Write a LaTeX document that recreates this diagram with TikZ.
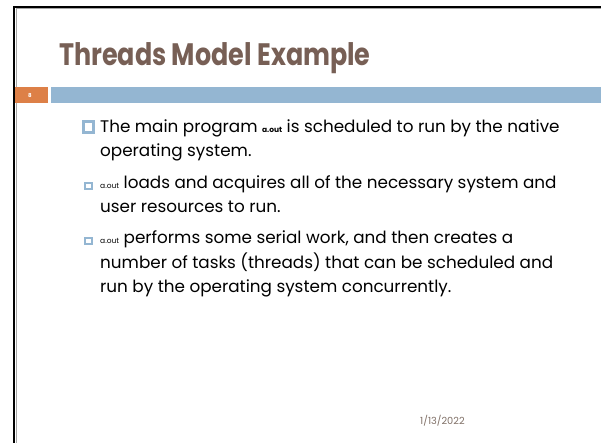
\documentclass[tikz,border=0pt]{standalone}
\usepackage{fontspec}
\setmainfont{Poppins}
\newfontfamily\titlefont[FakeStretch=0.82]{Poppins}
\definecolor{titlebrown}{HTML}{775F55}
\definecolor{barorange}{HTML}{DD8047}
\definecolor{barblue}{HTML}{94B6D2}
\definecolor{datebrown}{HTML}{7F6F66}

\begin{document}
\begin{tikzpicture}[x=1pt,y=-1pt,
	line/.style={anchor=base west,inner sep=0pt,font=\fontsize{16.8}{20}\selectfont},
	bigbullet/.style={draw=barblue,line width=2.8pt,fill=white,minimum size=10.5pt,inner sep=0pt},
	smallbullet/.style={draw=barblue,line width=2pt,fill=white,minimum size=6.5pt,inner sep=0pt}]
	\useasboundingbox (0,0) rectangle (601,442);
	% frame of the slide
	\draw [black!35,line width=1pt] (16,443) -- (16,8.5) -- (602,8.5);
	\draw [line width=2pt] (14,443) -- (14,7) -- (602,7);
	\fill [barorange] (15,87) rectangle (48,103);
	\fill [barblue] (51,87) rectangle (601,103);
	\node (num) [text=white,font=\fontsize{5.5}{6}\selectfont\bfseries] at (30,95) {8};

	\draw (59,65) node (title) [anchor=base west,inner sep=0pt,text=titlebrown,font=\titlefont\fontsize{31}{34}\selectfont\bfseries] {Threads Model Example};

	\node (b1) [bigbullet] at (88.5,127) {};
	\draw (100,132) node (l1) [line] {The main program {\fontsize{7.5}{8}\selectfont\bfseries a.out} is scheduled to run by the native};
	\draw (100,156) node (l2) [line] {operating system.};
	\node (b2) [smallbullet] at (88.5,186) {};
	\draw (100,188.5) node (l3) [line] {{\fontsize{7.5}{8}\selectfont a.out} loads and acquires all of the necessary system and};
	\draw (100,212) node (l4) [line] {user resources to run.};
	\node (b3) [smallbullet] at (88.5,241) {};
	\draw (100,243.5) node (l5) [line] {{\fontsize{7.5}{8}\selectfont a.out} performs some serial work, and then creates a};
	\draw (100,268) node (l6) [line] {number of tasks (threads) that can be scheduled and};
	\draw (100,292) node (l7) [line] {run by the operating system concurrently.};

	\draw (420,424) node (date) [anchor=base west,inner sep=0pt,text=datebrown,font=\fontsize{9.8}{11}\selectfont] {1/13/2022};
\end{tikzpicture}
\end{document}
